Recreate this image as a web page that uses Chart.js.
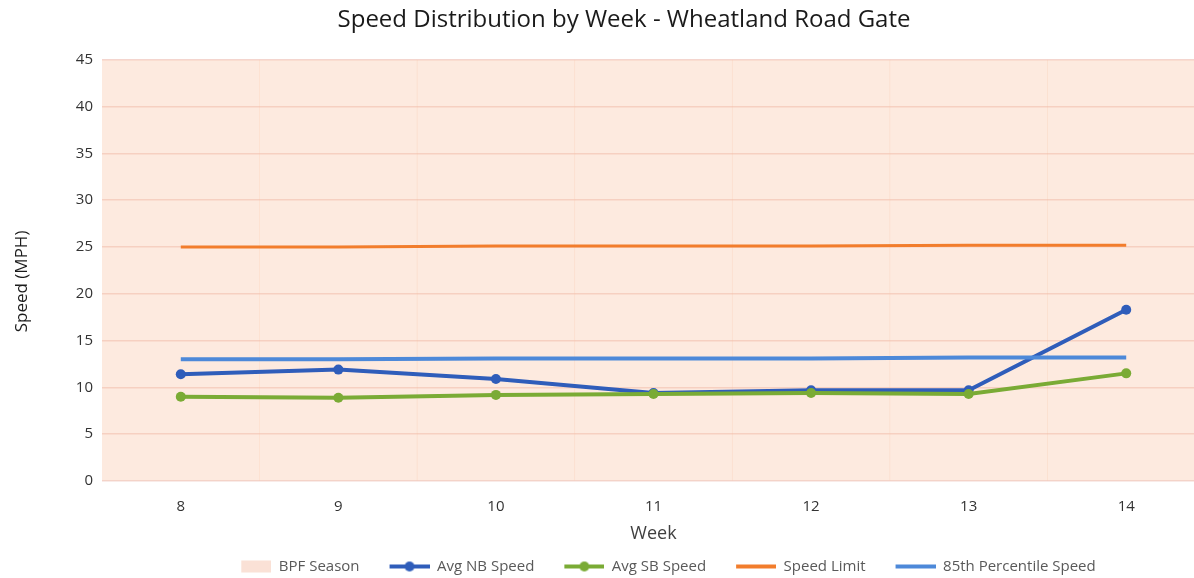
<!DOCTYPE html>
<html>
<head>
<meta charset="utf-8">
<script src="https://cdn.jsdelivr.net/npm/chart.js@4"></script>
<style>
  html, body { margin: 0; padding: 0; background: #ffffff; overflow: hidden; width: 1194px; height: 578px; }
  #wrap { position: absolute; left: 0; top: 0; width: 1248px; height: 578px; }
</style>
</head>
<body>
<div id="wrap"><canvas id="c" width="1248" height="578"></canvas></div>
<script>
// ---- data ----
const weeks = ['8', '9', '10', '11', '12', '13', '14'];
const bpfSeason = [45, 45, 45, 45, 45, 45, 45];
const avgNB = [11.4, 11.9, 10.9, 9.4, 9.7, 9.7, 18.3];
const avgSB = [9.0, 8.9, 9.2, 9.3, 9.4, 9.3, 11.5];
const speedLimit = [25.0, 25.0, 25.1, 25.1, 25.1, 25.2, 25.2];
const pct85 = [13.0, 13.0, 13.1, 13.1, 13.1, 13.2, 13.2];
const yTicks = [0, 5, 10, 15, 20, 25, 30, 35, 40, 45];

const FONT = "'Open Sans', 'Liberation Sans', sans-serif";
const C_NB = '#2f5dba';
const C_SB = '#7aab35';
const C_SL = '#f27d2c';
const C_85 = '#4d89d9';

function legendIcon(color, marker, rect) {
  const cv = document.createElement('canvas');
  cv.width = 60; cv.height = 14;
  const g = cv.getContext('2d');
  if (rect) {
    g.fillStyle = color;
    g.fillRect(30, 1, 30, 12);
  } else {
    g.strokeStyle = color; g.lineWidth = 4;
    g.beginPath(); g.moveTo(20, 7); g.lineTo(60, 7); g.stroke();
    if (marker) {
      g.fillStyle = color;
      g.beginPath(); g.arc(40, 7, 5, 0, Math.PI * 2); g.fill();
    }
  }
  return cv;
}

const icons = [
  legendIcon('rgba(250,222,210,0.9)', false, true),
  legendIcon(C_NB, true),
  legendIcon(C_SB, true),
  legendIcon(C_SL, false),
  legendIcon(C_85, false)
];

new Chart(document.getElementById('c'), {
  data: {
    labels: weeks,
    datasets: [
      { type: 'bar', label: 'BPF Season', data: bpfSeason,
        backgroundColor: 'rgba(248,196,164,0.35)', borderWidth: 0,
        barPercentage: 1.0, categoryPercentage: 1.0, order: 10 },
      { type: 'line', label: 'Avg NB Speed', data: avgNB,
        borderColor: C_NB, backgroundColor: C_NB, borderWidth: 4,
        pointRadius: 5, pointHoverRadius: 5, pointBackgroundColor: C_NB, pointBorderWidth: 0, order: 4 },
      { type: 'line', label: 'Avg SB Speed', data: avgSB,
        borderColor: C_SB, backgroundColor: C_SB, borderWidth: 4,
        pointRadius: 5, pointHoverRadius: 5, pointBackgroundColor: C_SB, pointBorderWidth: 0, order: 3 },
      { type: 'line', label: 'Speed Limit', data: speedLimit,
        borderColor: C_SL, backgroundColor: C_SL, borderWidth: 3,
        pointRadius: 0, order: 2 },
      { type: 'line', label: '85th Percentile Speed', data: pct85,
        borderColor: C_85, backgroundColor: C_85, borderWidth: 4,
        pointRadius: 0, order: 1 }
    ]
  },
  options: {
    responsive: false,
    animation: false,
    devicePixelRatio: 1,
    layout: { padding: { left: 0, right: 0, top: 4, bottom: -6 } },
    plugins: {
      title: {
        display: true,
        text: 'Speed Distribution by Week - Wheatland Road Gate',
        color: '#1a1a1a',
        font: { family: FONT, size: 24, weight: 'normal' },
        padding: { top: 2, bottom: 25 }
      },
      legend: {
        position: 'bottom',
        fullSize: false,
        labels: {
          usePointStyle: true,
          pointStyleWidth: 60,
          color: '#595959',
          font: { family: FONT, size: 15 },
          padding: 10,
          sort: (a, b) => a.datasetIndex - b.datasetIndex,
          generateLabels: (chart) => chart.data.datasets.map((ds, i) => ({
            text: ds.label,
            datasetIndex: i,
            pointStyle: icons[i],
            fillStyle: 'transparent',
            strokeStyle: 'transparent',
            lineWidth: 0,
            fontColor: '#595959',
            hidden: false
          }))
        }
      },
      tooltip: { enabled: false }
    },
    scales: {
      x: {
        offset: true,
        grid: { display: false },
        border: { display: false },
        afterFit: (s) => { s.height = 68; },
        ticks: { color: '#333333', font: { family: FONT, size: 15 }, padding: 9 },
        title: { display: true, text: 'Week', color: '#404040',
                 font: { family: FONT, size: 18 }, padding: { top: 0, bottom: 4 } }
      },
      y: {
        min: 0, max: 45,
        afterBuildTicks: (axis) => { axis.ticks = yTicks.map(v => ({ value: v })); },
        afterFit: (s) => { s.width = 102; },
        grid: { color: 'rgba(242,212,206,0.95)', lineWidth: 1.5, drawTicks: false },
        border: { display: false },
        ticks: { color: '#333333', font: { family: FONT, size: 15 }, padding: 9 },
        title: { display: true, text: 'Speed (MPH)     ', color: '#1a1a1a',
                 font: { family: FONT, size: 17 }, padding: { top: 12, bottom: 0 } }
      },
      yRightSpace: {
        position: 'right',
        display: true,
        min: 0, max: 45,
        grid: { display: false, drawTicks: false },
        border: { display: false },
        ticks: { display: false },
        afterFit: (s) => { s.width = 43; }
      }
    }
  }
});
</script>
</body>
</html>
